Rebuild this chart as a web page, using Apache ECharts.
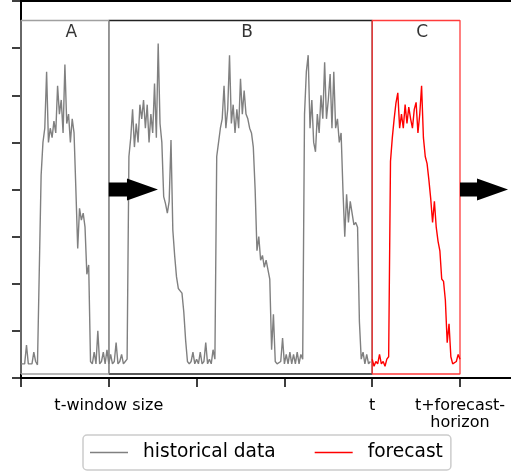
<!DOCTYPE html>
<html><head><meta charset="utf-8">
<script src="https://cdn.jsdelivr.net/npm/echarts@6/dist/echarts.min.js"></script>
<style>html,body{margin:0;padding:0;background:#fff;}#c{width:511px;height:472px;}</style>
</head><body><div id="c"></div>
<script>
// time axis unit = one day (one x tick); samples every half hour
const stepsPerDay = 48;
const forecastStartDay = 4;

// historical load, days 0..4
const historical = [
  // day 1
  0.30,0.28,0.30,0.70,0.30,0.28,0.30,0.55,0.35,0.28,
  0.30,4.30,5.00,5.30,6.50,5.00,5.30,5.10,5.45,5.20,
  6.20,5.60,5.90,5.20,6.65,5.40,5.60,5.00,5.50,5.20,
  4.00,2.75,3.60,3.35,3.50,3.20,2.20,2.40,0.35,0.30,
  0.55,0.30,1.00,0.30,0.35,0.55,0.30,0.60,
  // day 2
  0.30,0.50,0.30,0.35,0.75,0.30,0.35,0.50,0.30,0.35,
  0.40,4.70,5.10,5.70,4.90,5.40,5.00,5.80,5.50,5.90,
  5.30,5.80,5.00,5.60,5.20,6.25,5.10,7.10,5.40,5.00,
  3.85,3.70,3.50,3.75,5.05,3.14,2.60,2.15,1.90,1.85,
  1.80,1.40,0.80,0.35,0.30,0.35,0.55,0.30,
  // day 3
  0.40,0.30,0.55,0.30,0.35,0.75,0.30,0.40,0.30,0.60,
  0.40,4.70,5.00,5.30,5.50,6.20,5.30,5.70,6.85,5.40,
  5.80,5.20,5.70,5.30,6.35,5.60,6.10,5.60,5.50,5.30,
  5.20,4.90,4.00,2.70,3.00,2.50,2.60,2.35,2.50,2.30,
  2.10,0.60,1.35,0.35,0.30,0.30,0.35,0.85,
  // day 4
  0.30,0.50,0.30,0.55,0.30,0.50,0.30,0.55,0.30,0.50,
  0.40,5.60,6.50,6.85,5.30,5.90,5.00,4.80,5.60,5.20,
  6.00,5.50,6.70,5.50,5.90,6.45,5.30,6.50,5.30,5.50,
  5.00,5.20,4.00,3.00,3.90,3.30,3.75,3.50,3.25,3.30,
  3.20,1.20,0.40,0.55,0.30,0.50,0.30,0.35
];

// forecast, day 4..5
const forecast = [
  0.40,0.25,0.35,0.30,0.50,0.30,0.35,0.25,0.40,0.45,
  4.60,5.10,5.50,5.84,6.05,5.30,5.60,5.30,5.80,5.40,
  5.75,5.50,5.30,5.70,5.85,5.20,5.60,6.20,5.10,4.70,
  4.55,4.20,3.80,3.30,3.75,3.20,2.90,2.70,2.10,2.05,
  1.65,0.75,1.15,0.45,0.30,0.30,0.35,0.50,0.40
];

const tickLabels = ['', 't-window size', '', '', 't', 't+forecast-\nhorizon', ''];
const windowNames = ['A', 'B', 'C'];
const windowStart = [0, 1, 4];
const windowEnd = [1, 4, 5];
const windowBottom = 0.085;
const windowTop = 7.586;
const windowLabelX = [0.574, 2.574, 4.57];
const windowLabelY = 7.32;
// arrows: start x, tip x, shared y
const arrowStart = [1.0, 5.0];
const arrowTip = [1.56, 5.547];
const arrowY = 4.0;

const histData = historical.map((v, i) => [i / stepsPerDay, v]);
const fcData = forecast.map((v, i) => [forecastStartDay + i / stepsPerDay, v]);

function rectPath(k) {
  const x0 = windowStart[k], x1 = windowEnd[k];
  return [[x0, windowBottom], [x1, windowBottom], [x1, windowTop], [x0, windowTop], [x0, windowBottom]];
}
const winColors = ['#a0a0a0', '#222222', '#ff3b3b'];
function rectSeries(k) {
  return {
    type: 'line', name: 'win' + windowNames[k], data: rectPath(k), symbol: 'none', silent: true,
    lineStyle: { color: winColors[k], width: 1.3 }, z: 1
  };
}

const FONT = 'DejaVu Sans';
const chart = echarts.init(document.getElementById('c'), null, { renderer: 'canvas' });
chart.setOption({
  animation: false,
  backgroundColor: '#fff',
  grid: { left: 21, top: 1, width: 526.8, height: 377, outerBoundsMode: 'none', containLabel: false,
          show: true, borderColor: '#000', borderWidth: 2, backgroundColor: 'transparent' },
  xAxis: {
    type: 'value', min: 0, max: 6, interval: 1,
    axisLine: { show: true, lineStyle: { color: '#000', width: 2 } },
    axisTick: { show: true, inside: false, length: 9, lineStyle: { color: '#000', width: 1.5 } },
    axisLabel: { show: true, formatter: v => tickLabels[Math.round(v)] || '', fontSize: 16, lineHeight: 17, color: '#000', fontFamily: FONT, margin: 19 },
    splitLine: { show: false }
  },
  yAxis: {
    type: 'value', min: 0, max: 8, interval: 1,
    axisLine: { show: true, lineStyle: { color: '#000', width: 2 } },
    axisTick: { show: true, inside: false, length: 9, lineStyle: { color: '#000', width: 1.5 } },
    axisLabel: { show: false },
    splitLine: { show: false }
  },
  legend: {
    data: ['historical data', 'forecast'],
    icon: 'rect',
    left: 83, top: 435,
    itemWidth: 38, itemHeight: 1.4, itemGap: 39,
    padding: [8, 8, 8, 7],
    borderColor: '#cccccc', borderWidth: 1.5, borderRadius: 4, backgroundColor: '#fff',
    textStyle: { fontSize: 18.6, fontFamily: FONT, color: '#000', padding: [0, 0, 0, 10] }
  },
  series: [
    rectSeries(1), rectSeries(0), rectSeries(2),
    { type: 'line', name: 'historical data', data: histData, symbol: 'none', showSymbol: false,
      lineStyle: { color: '#808080', width: 1.4 }, itemStyle: { color: '#808080' }, z: 3 },
    { type: 'line', name: 'forecast', data: fcData, symbol: 'none', showSymbol: false,
      lineStyle: { color: '#ff0000', width: 1.4 }, itemStyle: { color: '#ff0000' }, z: 3 },
    { type: 'custom', name: 'arrows', silent: true, z: 5, clip: false,
      data: arrowStart.map((s, i) => [s, arrowY, arrowTip[i]]),
      encode: { x: [0, 2], y: 1 },
      renderItem: (params, api) => {
        const p0 = api.coord([api.value(0), api.value(1)]);
        const p1 = api.coord([api.value(2), api.value(1)]);
        const hl = 31, hw = 11, sw = 7, y = p0[1], xb = p1[0] - hl;
        return { type: 'polygon', shape: { points: [[p0[0], y - sw], [xb, y - sw], [xb, y - hw], [p1[0], y], [xb, y + hw], [xb, y + sw], [p0[0], y + sw]] }, style: { fill: '#000' } };
      }
    },
    { type: 'scatter', name: 'labels', silent: true, symbolSize: 0, z: 6,
      data: windowNames.map((n, i) => [windowLabelX[i], windowLabelY, n]),
      label: { show: true, position: 'inside', formatter: p => p.data[2], fontSize: 17, fontFamily: FONT, color: '#000' }
    }
  ]
});
</script></body></html>
